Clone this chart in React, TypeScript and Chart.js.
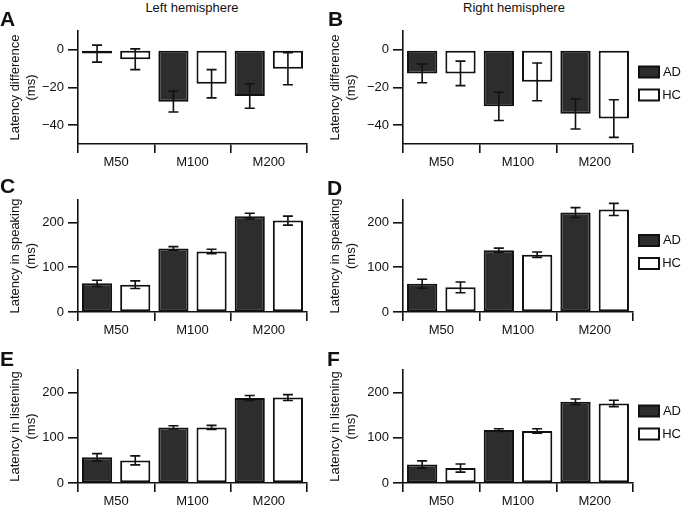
import React, { useEffect, useRef } from 'react';
import { Chart, registerables } from 'chart.js';

Chart.register(...registerables);

const FONT = "'Liberation Sans', Arial, Helvetica, sans-serif";
const TEXT = '#111';
const FS = 13;

const categories = ['M50', 'M100', 'M200'];
const seriesNames = ['AD', 'HC'];
const diffTicks = [-40, -20, 0];
const latencyTicks = [0, 100, 200];

// A: left hemisphere, latency difference
const leftDiffAD = [-2, -27.5, -24.5];
const leftDiffADErr = [4.5, 5.5, 6.5];
const leftDiffHC = [-5, -18, -10];
const leftDiffHCErr = [5.5, 7.5, 8.5];
// B: right hemisphere, latency difference
const rightDiffAD = [-12.5, -30, -34];
const rightDiffADErr = [5, 7.5, 8];
const rightDiffHC = [-12.5, -17, -36.5];
const rightDiffHCErr = [6.5, 10, 10];
// C: left hemisphere, speaking
const leftSpeakAD = [64, 142, 214];
const leftSpeakADErr = [7, 4, 6.5];
const leftSpeakHC = [61, 135, 204];
const leftSpeakHCErr = [8.5, 5, 10];
// D: right hemisphere, speaking
const rightSpeakAD = [63, 138, 222];
const rightSpeakADErr = [10, 4.5, 11];
const rightSpeakHC = [55, 128, 229];
const rightSpeakHCErr = [12, 6, 13.5];
// E: left hemisphere, listening
const leftListenAD = [57, 123, 188];
const leftListenADErr = [8, 3.5, 5.5];
const leftListenHC = [50, 123, 189];
const leftListenHCErr = [10, 4.5, 6.5];
// F: right hemisphere, listening
const rightListenAD = [41, 117, 180];
const rightListenADErr = [8, 3, 6];
const rightListenHC = [33, 115, 176];
const rightListenHCErr = [9, 5, 7];

type PanelProps = {
  ad: number[];
  adErr: number[];
  hc: number[];
  hcErr: number[];
  yTitle: string;
  yMin: number;
  yMax: number;
  yTicks: number[];
  side: 'left' | 'right';
  top: number;
  height: number;
  padTop: number;
  xHeight: number;
};

const fmt = (v: number) => (v < 0 ? '\u2212' + Math.abs(v) : String(v));

function makeErrorBars(errors: number[][]) {
  return {
    id: 'errorBars',
    afterDatasetsDraw(chart: any) {
      const ctx = chart.ctx;
      const y = chart.scales.y;
      ctx.save();
      ctx.strokeStyle = TEXT;
      ctx.lineWidth = 1.6;
      chart.data.datasets.forEach((ds: any, di: number) => {
        const meta = chart.getDatasetMeta(di);
        meta.data.forEach((bar: any, i: number) => {
          const v = ds.data[i] as number;
          const e = errors[di][i];
          const x = bar.x;
          const t = y.getPixelForValue(v + e);
          const b = y.getPixelForValue(v - e);
          ctx.beginPath();
          ctx.moveTo(x, t);
          ctx.lineTo(x, b);
          ctx.moveTo(x - 5, t);
          ctx.lineTo(x + 5, t);
          ctx.moveTo(x - 5, b);
          ctx.lineTo(x + 5, b);
          ctx.stroke();
        });
      });
      ctx.restore();
    },
  };
}

const legendNudge = {
  id: 'legendNudge',
  afterLayout(chart: any) {
    const l = chart.legend;
    if (l && l.options && l.options.display) {
      l.left -= 4;
      l.top -= 8;
    }
  },
};

function Panel(p: PanelProps) {
  const ref = useRef<HTMLCanvasElement | null>(null);
  const isRight = p.side === 'right';
  const left = isRight ? 325 : 0;
  const width = isRight ? 357 : 325;

  useEffect(() => {
    if (!ref.current) return;
    const font = { family: FONT, size: FS };
    const chart = new Chart(ref.current, {
      type: 'bar',
      data: {
        labels: categories,
        datasets: [
          {
            label: seriesNames[0],
            data: p.ad,
            backgroundColor: '#2d2d2d',
            borderColor: TEXT,
            borderWidth: 2,
            borderSkipped: false,
            categoryPercentage: 1,
            barPercentage: 0.79,
          },
          {
            label: seriesNames[1],
            data: p.hc,
            backgroundColor: '#ffffff',
            borderColor: TEXT,
            borderWidth: 2,
            borderSkipped: false,
            categoryPercentage: 1,
            barPercentage: 0.79,
          },
        ],
      },
      options: {
        responsive: false,
        animation: false,
        events: [],
        layout: {
          padding: { top: p.padTop, bottom: 0, left: 0, right: isRight ? 1 : 18 },
        },
        plugins: {
          tooltip: { enabled: false },
          legend: {
            display: isRight,
            position: 'right',
            fullSize: false,
            maxWidth: 48,
            labels: {
              boxWidth: 20,
              boxHeight: 11,
              padding: 10,
              font,
              color: TEXT,
              textAlign: 'right',
            },
          },
        },
        scales: {
          x: {
            type: 'category',
            grid: {
              display: true,
              drawOnChartArea: false,
              drawTicks: true,
              tickLength: 9,
              color: TEXT,
              lineWidth: 1.6,
              offset: true,
            },
            border: { display: true, color: TEXT, width: 1.6 },
            ticks: { font, color: TEXT, padding: 2, maxRotation: 0, autoSkip: false },
            afterFit: (s: any) => {
              s.height = p.xHeight;
            },
          },
          y: {
            min: p.yMin,
            max: p.yMax,
            grid: {
              display: true,
              drawOnChartArea: false,
              drawTicks: true,
              tickLength: 10,
              color: TEXT,
              lineWidth: 1.6,
            },
            border: { display: true, color: TEXT, width: 1.6 },
            ticks: {
              font,
              color: TEXT,
              padding: 4,
              callback: (v: any) => fmt(Number(v)),
            },
            afterBuildTicks: (s: any) => {
              s.ticks = p.yTicks.map((v) => ({ value: v }));
            },
            afterFit: (s: any) => {
              s.width = 78;
            },
            title: {
              display: true,
              text: [p.yTitle, '(ms)'],
              font,
              color: TEXT,
              padding: { top: isRight ? 3 : 8, bottom: 0 },
            },
          },
        },
      },
      plugins: [makeErrorBars([p.adErr, p.hcErr]), legendNudge],
    } as any);
    return () => chart.destroy();
  }, []);

  return (
    <canvas
      ref={ref}
      width={width}
      height={p.height}
      style={{ position: 'absolute', left, top: p.top, width, height: p.height, display: 'block' }}
    />
  );
}

const textStyle: React.CSSProperties = {
  position: 'absolute',
  fontFamily: FONT,
  color: TEXT,
  whiteSpace: 'nowrap',
};

function Letter({ ch, x, y }: { ch: string; x: number; y: number }) {
  return (
    <div style={{ ...textStyle, left: x, top: y, fontSize: 21, lineHeight: '21px', fontWeight: 'bold' }}>
      {ch}
    </div>
  );
}

export default function App() {
  const rows = [
    { top: 0, height: 170, padTop: 31, xHeight: 26 },
    { top: 170, height: 170, padTop: 30, xHeight: 28 },
    { top: 340, height: 167, padTop: 30, xHeight: 24 },
  ];
  return (
    <div
      style={{
        position: 'absolute',
        left: 0,
        top: 0,
        width: 682,
        height: 507,
        overflow: 'hidden',
        background: '#fff',
      }}
    >
      <div style={{ ...textStyle, left: 92, width: 200, textAlign: 'center', top: 0, fontSize: FS, lineHeight: '15px' }}>
        Left hemisphere
      </div>
      <div style={{ ...textStyle, left: 414, width: 200, textAlign: 'center', top: 0, fontSize: FS, lineHeight: '15px' }}>
        Right hemisphere
      </div>
      <Panel ad={leftDiffAD} adErr={leftDiffADErr} hc={leftDiffHC} hcErr={leftDiffHCErr}
        yTitle="Latency difference" yMin={-50} yMax={10} yTicks={diffTicks} side="left" {...rows[0]} />
      <Panel ad={rightDiffAD} adErr={rightDiffADErr} hc={rightDiffHC} hcErr={rightDiffHCErr}
        yTitle="Latency difference" yMin={-50} yMax={10} yTicks={diffTicks} side="right" {...rows[0]} />
      <Panel ad={leftSpeakAD} adErr={leftSpeakADErr} hc={leftSpeakHC} hcErr={leftSpeakHCErr}
        yTitle="Latency in speaking" yMin={0} yMax={250} yTicks={latencyTicks} side="left" {...rows[1]} />
      <Panel ad={rightSpeakAD} adErr={rightSpeakADErr} hc={rightSpeakHC} hcErr={rightSpeakHCErr}
        yTitle="Latency in speaking" yMin={0} yMax={250} yTicks={latencyTicks} side="right" {...rows[1]} />
      <Panel ad={leftListenAD} adErr={leftListenADErr} hc={leftListenHC} hcErr={leftListenHCErr}
        yTitle="Latency in listening" yMin={0} yMax={250} yTicks={latencyTicks} side="left" {...rows[2]} />
      <Panel ad={rightListenAD} adErr={rightListenADErr} hc={rightListenHC} hcErr={rightListenHCErr}
        yTitle="Latency in listening" yMin={0} yMax={250} yTicks={latencyTicks} side="right" {...rows[2]} />
      <Letter ch="A" x={0} y={8} />
      <Letter ch="B" x={328} y={8} />
      <Letter ch="C" x={0} y={175} />
      <Letter ch="D" x={327} y={177} />
      <Letter ch="E" x={0} y={348} />
      <Letter ch="F" x={327} y={348} />
    </div>
  );
}
